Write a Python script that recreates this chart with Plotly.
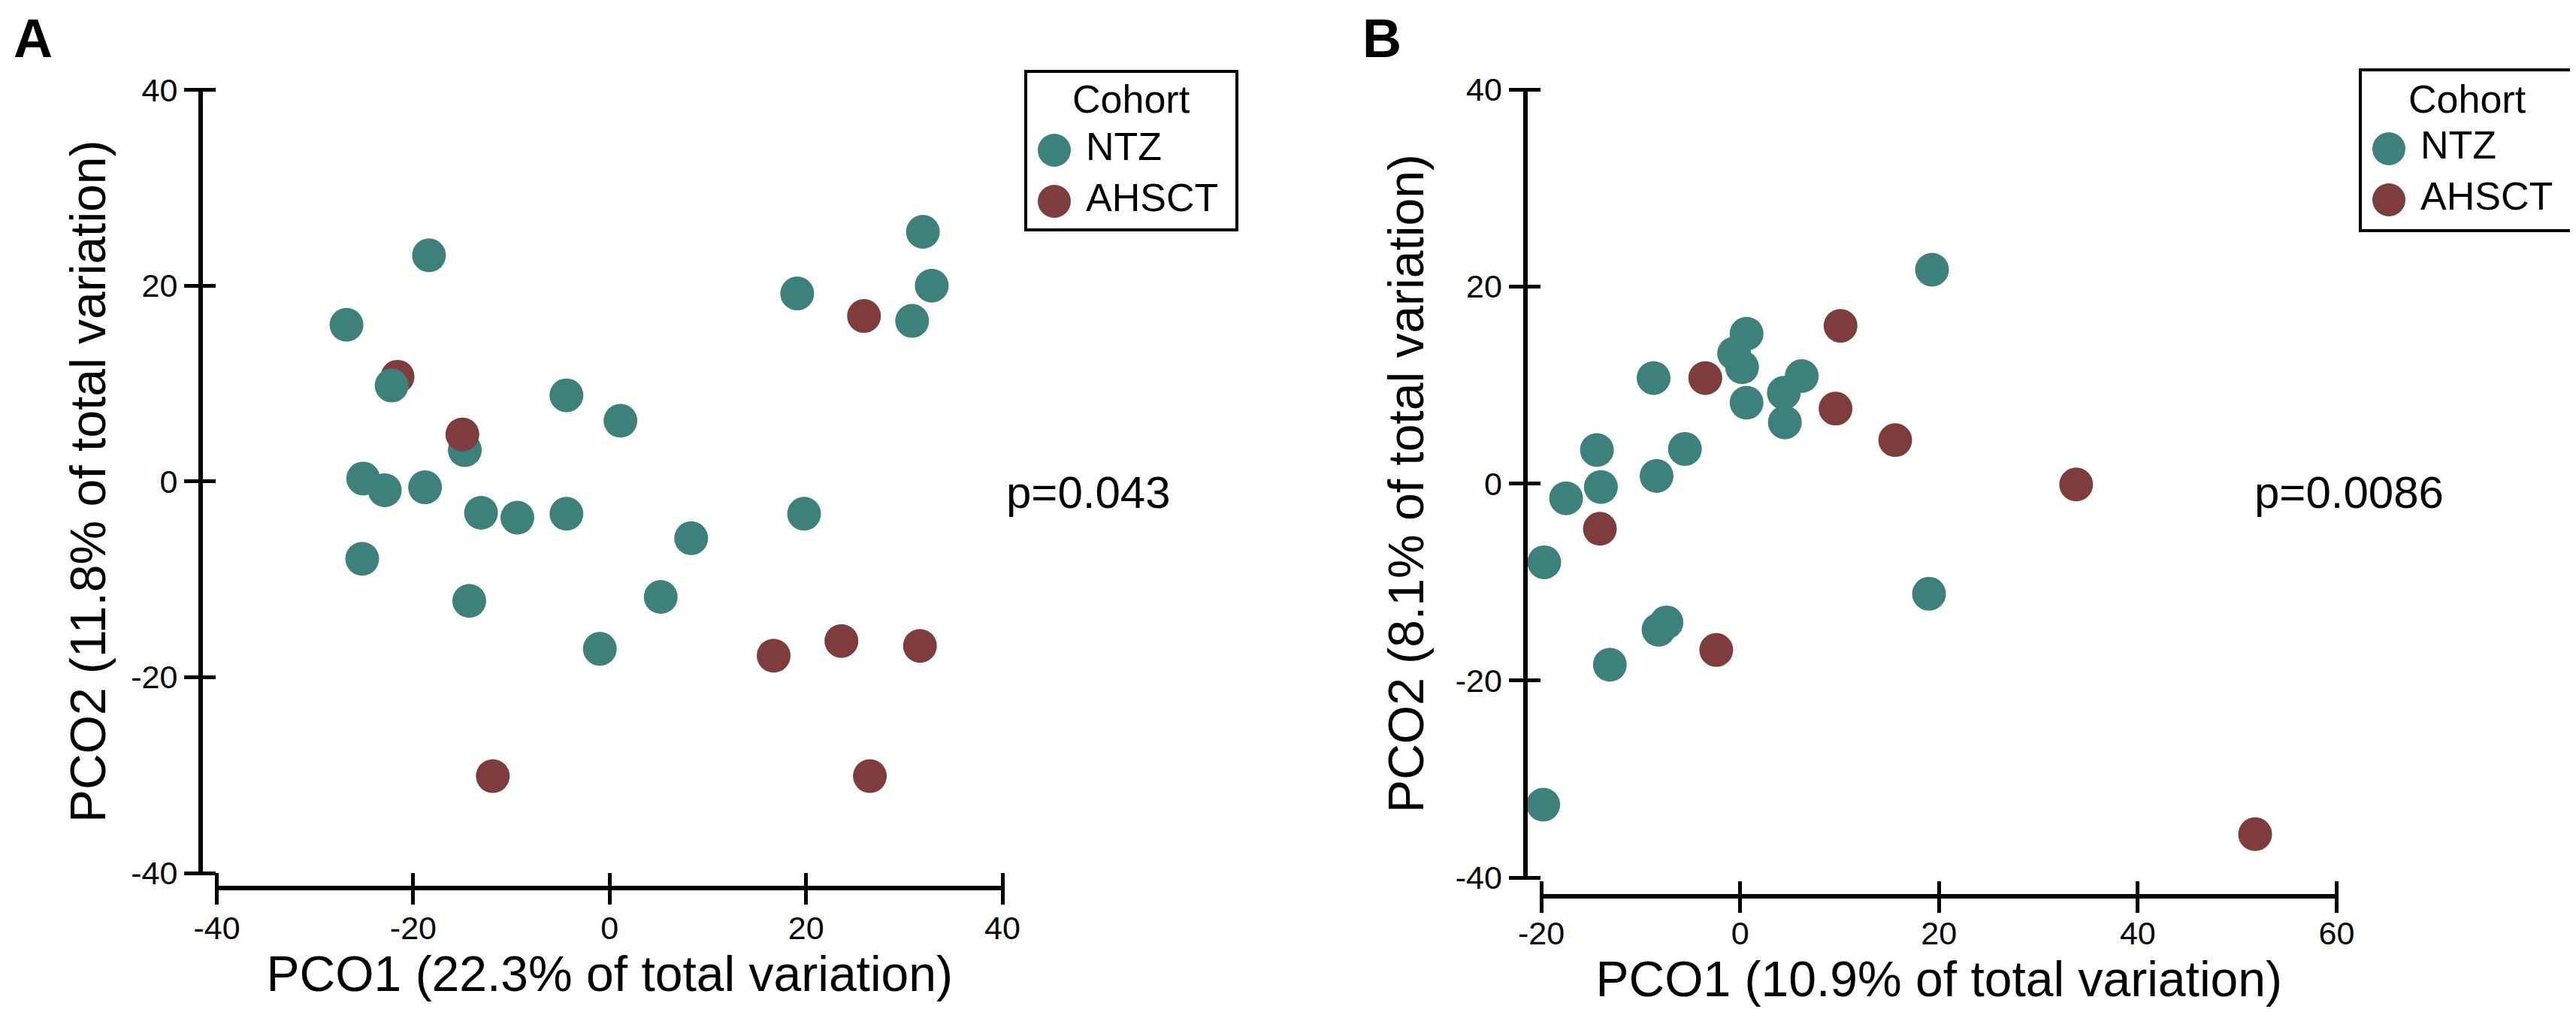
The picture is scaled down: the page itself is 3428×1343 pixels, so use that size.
import plotly.graph_objects as go

W, H = 3428, 1343
FONT = "Liberation Sans, Arial, sans-serif"
TEAL = "#3e807c"
RED = "#7e3c3d"

# ---------------- data ----------------
cohorts = ["NTZ", "AHSCT"]

# Panel A (last NTZ point is drawn on top of AHSCT)
ntz_a_x = [-18.4, -26.8, -4.4, 1.1, -14.75, -25.1, -22.9, -18.8, -13.1, -9.4, -4.4,
           8.3, -25.2, -14.3, 5.2, -1.0, 31.9, 19.1, 32.8, 30.8, 19.8, -22.2]
ntz_a_y = [23.1, 16.0, 8.8, 6.2, 3.2, 0.3, -0.9, -0.6, -3.2, -3.7, -3.3,
           -5.8, -7.9, -12.2, -11.8, -17.1, 25.5, 19.2, 20.0, 16.4, -3.3, 9.8]
ahsct_a_x = [-21.6, -15.0, -11.9, 25.9, 16.7, 23.6, 31.6, 26.5]
ahsct_a_y = [10.7, 4.8, -30.1, 16.9, -17.8, -16.3, -16.8, -30.1]

# Panel B
ntz_b_x = [19.3, 0.65, -0.6, 0.2, -8.7, 6.2, 4.4, 0.65, 4.5, -14.4, -5.55, -8.4,
           -14.0, -17.5, -19.7, 19.0, -7.4, -8.2, -13.1, -19.8]
ntz_b_y = [21.7, 15.2, 13.2, 11.8, 10.7, 10.9, 9.2, 8.2, 6.2, 3.4, 3.5, 0.76,
           -0.36, -1.5, -8.0, -11.2, -14.1, -14.85, -18.4, -32.6]
ahsct_b_x = [10.1, -3.5, 9.6, 15.6, -14.1, -2.4, 33.8, 51.8]
ahsct_b_y = [16.0, 10.7, 7.6, 4.4, -4.6, -16.9, -0.1, -35.6]

a_xticks = [-40, -20, 0, 20, 40]
a_yticks = [-40, -20, 0, 20, 40]
b_xticks = [-20, 0, 20, 40, 60]
b_yticks = [-40, -20, 0, 20, 40]
a_xticklabels = ["-40", "-20", "0", "20", "40"]
a_yticklabels = ["-40", "-20", "0", "20", "40"]
b_xticklabels = ["-20", "0", "20", "40", "60"]
b_yticklabels = ["-40", "-20", "0", "20", "40"]

a_xtitle = "PCO1 (22.3% of total variation)"
a_ytitle = "PCO2 (11.8% of total variation)"
b_xtitle = "PCO1 (10.9% of total variation)"
b_ytitle = "PCO2 (8.1% of total variation)"
a_pvalue = "p=0.043"
b_pvalue = "p=0.0086"
# ---------------------------------------


def fx(p):
    return p / W


def fy(p):
    return 1 - p / H


MS = 45
fig = go.Figure()


def pts(x, y, color, xa, ya, name):
    return go.Scatter(x=x, y=y, mode="markers", name=name, xaxis=xa, yaxis=ya,
                      marker=dict(color=color, size=MS, line=dict(width=0)),
                      cliponaxis=False, showlegend=False)


# Panel A
fig.add_trace(pts(ntz_a_x[:-1], ntz_a_y[:-1], TEAL, "x", "y", cohorts[0]))
fig.add_trace(pts(ahsct_a_x, ahsct_a_y, RED, "x", "y", cohorts[1]))
fig.add_trace(pts(ntz_a_x[-1:], ntz_a_y[-1:], TEAL, "x", "y", cohorts[0]))
# Panel B
fig.add_trace(pts(ntz_b_x, ntz_b_y, TEAL, "x2", "y2", cohorts[0]))
fig.add_trace(pts(ahsct_b_x, ahsct_b_y, RED, "x2", "y2", cohorts[1]))
# twin axes (crossing ticks) need a transparent trace to exist
fig.add_trace(go.Scatter(x=[a_xticks[2]], y=[a_yticks[2]], xaxis="x3", yaxis="y3", mode="markers",
                         marker=dict(opacity=0, size=1), showlegend=False, hoverinfo="skip"))
fig.add_trace(go.Scatter(x=[b_xticks[1]], y=[b_yticks[2]], xaxis="x4", yaxis="y4", mode="markers",
                         marker=dict(opacity=0, size=1), showlegend=False, hoverinfo="skip"))

# legends as small boxed subplots
leg_colors = [TEAL, RED]
for xa, ya in (("x5", "y5"), ("x6", "y6")):
    fig.add_trace(go.Scatter(x=[36, 36], y=cohorts, mode="markers", xaxis=xa, yaxis=ya,
                             marker=dict(color=leg_colors, size=44), showlegend=False,
                             cliponaxis=False, hoverinfo="skip"))
    fig.add_trace(go.Scatter(x=[78, 78], y=cohorts, mode="text", text=cohorts,
                             textposition="middle right", xaxis=xa, yaxis=ya,
                             textfont=dict(family=FONT, size=52, color="black"),
                             showlegend=False, cliponaxis=False, hoverinfo="skip"))

TICKFONT = dict(family=FONT, size=43, color="black")
TITLEFONT = dict(family=FONT, size=66, color="black")
LW = 6
TL_OUT = 19
TL_IN = 17


def main_axis(domain, rng, pos, ticks, labels, title, standoff, lab_off):
    return dict(domain=domain, range=rng, anchor="free", position=pos,
                showline=True, linewidth=LW, linecolor="black", mirror=False,
                ticks="outside", ticklen=TL_OUT, tickwidth=5, tickcolor="black",
                tickmode="array", tickvals=ticks, ticktext=labels, tickfont=TICKFONT,
                ticklabelstandoff=lab_off,
                minor=dict(ticks="inside", tickmode="array",
                           tickvals=[t + 1e-6 for t in ticks],
                           ticklen=TL_IN, tickwidth=5, tickcolor="black", showgrid=False),
                showgrid=False, zeroline=False, fixedrange=True, automargin=False,
                title=dict(text=title, font=TITLEFONT, standoff=standoff))


def twin_axis(domain, rng, pos, ticks):
    # placed TL_IN px inside the main axis, outside ticks reach across the main axis line
    return dict(domain=domain, range=rng, anchor="free", position=pos,
                showline=False, ticks="outside", ticklen=TL_IN + TL_OUT, tickwidth=5,
                tickcolor="black", tickmode="array", tickvals=ticks, showticklabels=False,
                automargin=False, showgrid=False, zeroline=False, fixedrange=True)


a_xdom = [fx(280.6), fx(1326)]
a_ydom = [fy(1154), fy(111.6)]
b_xdom = [fx(2043), fx(3101.5)]
b_ydom = [fy(1160), fy(111)]
A_XLINE, A_YLINE = 1174, 259
B_XLINE, B_YLINE = 1185, 2021.5


def leg_axes(x0, x1, y0, y1):
    wpx = x1 - x0
    hpx = y1 - y0
    step = 68.0
    top = -103.0 / step
    bot = (hpx - 103.0) / step
    xa = dict(domain=[fx(x0), fx(x1)], range=[0, wpx], showline=True, mirror=True,
              linewidth=4, linecolor="black", ticks="", showticklabels=False,
              showgrid=False, zeroline=False, fixedrange=True, automargin=False)
    ya = dict(domain=[fy(y1), fy(y0)], type="category", categoryorder="array",
              categoryarray=cohorts, range=[bot, top], showline=True, mirror=True,
              linewidth=4, linecolor="black", ticks="", showticklabels=False,
              showgrid=False, zeroline=False, fixedrange=True, automargin=False)
    return xa, ya


l5x, l5y = leg_axes(1359, 1636, 89, 296)
l6x, l6y = leg_axes(3135, 3415, 87, 297)
l5x["anchor"] = "y5"
l5y["anchor"] = "x5"
l6x["anchor"] = "y6"
l6y["anchor"] = "x6"

fig.update_layout(
    width=W, height=H,
    margin=dict(l=0, r=0, t=0, b=0, pad=0, autoexpand=False),
    paper_bgcolor="white", plot_bgcolor="rgba(0,0,0,0)",
    showlegend=False,
    font=dict(family=FONT, color="black"),
    xaxis=main_axis(a_xdom, [-40, 40], fy(A_XLINE), a_xticks, a_xticklabels, a_xtitle, 1, -6),
    yaxis=main_axis(a_ydom, [-40, 40], fx(A_YLINE), a_yticks, a_yticklabels, a_ytitle, 11, 0),
    xaxis2=main_axis(b_xdom, [-20, 60], fy(B_XLINE), b_xticks, b_xticklabels, b_xtitle, 0, -10),
    yaxis2=main_axis(b_ydom, [-40, 40], fx(B_YLINE), b_yticks, b_yticklabels, b_ytitle, 20, 0),
    xaxis3=twin_axis(a_xdom, [-40, 40], fy(A_XLINE - TL_IN), a_xticks),
    yaxis3=twin_axis(a_ydom, [-40, 40], fx(A_YLINE + TL_IN), a_yticks),
    xaxis4=twin_axis(b_xdom, [-20, 60], fy(B_XLINE - TL_IN), b_xticks),
    yaxis4=twin_axis(b_ydom, [-40, 40], fx(B_YLINE + TL_IN), b_yticks),
    xaxis5=l5x, yaxis5=l5y, xaxis6=l6x, yaxis6=l6y,
)

annotations = [
    dict(text="<b>A</b>", xref="paper", yref="paper", x=fx(8), y=fy(1),
         xanchor="left", yanchor="top", showarrow=False,
         font=dict(family=FONT, size=72, color="black")),
    dict(text="<b>B</b>", xref="paper", yref="paper", x=fx(1803), y=fy(1),
         xanchor="left", yanchor="top", showarrow=False,
         font=dict(family=FONT, size=72, color="black")),
    dict(text=a_pvalue, xref="paper", yref="paper", x=fx(1440), y=fy(647), xanchor="center",
         yanchor="middle", showarrow=False, font=dict(family=FONT, size=60, color="black")),
    dict(text=b_pvalue, xref="paper", yref="paper", x=fx(3118), y=fy(647), xanchor="center",
         yanchor="middle", showarrow=False, font=dict(family=FONT, size=60, color="black")),
    dict(text="Cohort", xref="x5 domain", yref="y5 domain", x=0.5, y=1 - (124 - 89) / 207,
         xanchor="center", yanchor="middle", showarrow=False,
         font=dict(family=FONT, size=52, color="black")),
    dict(text="Cohort", xref="x6 domain", yref="y6 domain", x=0.5, y=1 - (124 - 87) / 210,
         xanchor="center", yanchor="middle", showarrow=False,
         font=dict(family=FONT, size=52, color="black")),
]
fig.update_layout(annotations=annotations)

fig.write_html("out.html")
